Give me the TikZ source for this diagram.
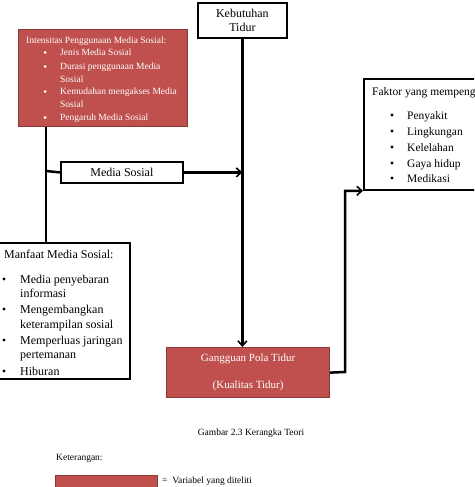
\documentclass[tikz,border=0pt]{standalone}
\usepackage{fontspec}
\setmainfont{Liberation Serif}
\usetikzlibrary{arrows.meta}
\definecolor{varred}{HTML}{C0504D}
\definecolor{varedge}{HTML}{8C3836}
\begin{document}
\begin{tikzpicture}[x=1pt,y=-1pt,
  whitebox/.style={draw=black,line width=1.8pt,fill=white,inner sep=0pt,anchor=north west},
  redbox/.style={draw=varedge,line width=1.2pt,fill=varred,inner sep=0pt,anchor=north west},
  conn/.style={line width=2.5pt},
  arr/.style={conn,-{Straight Barb[length=5pt,width=9pt,line width=1.6pt]}},
  txt/.style={inner sep=0pt,anchor=base west,font=\fontsize{12}{14}\selectfont},
  ftxt/.style={txt,font=\fontsize{11.5}{14}\selectfont},
  wtxt/.style={inner sep=0pt,anchor=base west,text=white,font=\fontsize{9.5}{12}\selectfont},
  bul/.style={circle,fill=black,inner sep=0pt,minimum size=3.4pt},
  wbul/.style={circle,fill=white,inner sep=0pt,minimum size=3pt},
  small/.style={inner sep=0pt,font=\fontsize{9.5}{12}\selectfont}]
\useasboundingbox (0,0) rectangle (474,487);
\clip (0,0) rectangle (474,487);

% Kebutuhan Tidur
\node[whitebox,minimum width=89pt,minimum height=35pt] (keb) at (197,2) {};
\node[inner sep=0pt,align=center,font=\fontsize{12}{14}\selectfont] (kebt) at (keb.center) {Kebutuhan\\Tidur};

% Intensitas box
\node[redbox,minimum width=169pt,minimum height=97pt] (intens) at (18,29) {};
\node[wtxt] (i0) at (26,43.5) {Intensitas Penggunaan Media Sosial:};
\node[wbul] (ib1) at (45,52.5) {};
\node[wtxt] (i1) at (60,55.5) {Jenis Media Sosial};
\node[wbul] (ib2) at (45,66.5) {};
\node[wtxt] (i2) at (60,69.5) {Durasi penggunaan Media};
\node[wtxt] (i2b) at (60,82.5) {Sosial};
\node[wbul] (ib3) at (45,91.5) {};
\node[wtxt] (i3) at (60,94.5) {Kemudahan mengakses Media};
\node[wtxt] (i3b) at (60,107.5) {Sosial};
\node[wbul] (ib4) at (45,117.5) {};
\node[wtxt] (i4) at (60,120.5) {Pengaruh Media Sosial};

% Media Sosial
\node[whitebox,minimum width=122pt,minimum height=21pt] (media) at (60,161) {};
\node[inner sep=0pt,font=\fontsize{12}{14}\selectfont] (mediat) at (media.center) {Media Sosial};

% Manfaat box
\node[whitebox,minimum width=131pt,minimum height=136pt] (manf) at (-2,242) {};
\node[txt] (m0) at (4,258) {Manfaat Media Sosial:};
\node[bul] (mb1) at (4,279) {};
\node[txt] (m1) at (20,283) {Media penyebaran};
\node[txt] (m1b) at (20,297) {informasi};
\node[bul] (mb2) at (4,309) {};
\node[txt] (m2) at (20,313) {Mengembangkan};
\node[txt] (m2b) at (20,328) {keterampilan sosial};
\node[bul] (mb3) at (4,340) {};
\node[txt] (m3) at (20,344) {Memperluas jaringan};
\node[txt] (m3b) at (20,358) {pertemanan};
\node[bul] (mb4) at (4,371) {};
\node[txt] (m4) at (20,375) {Hiburan};

% Faktor box
\node[whitebox,minimum width=130pt,minimum height=111pt] (faktor) at (363,78) {};
\node[ftxt] (f0) at (372,95) {Faktor yang mempeng};
\node[bul] (fb1) at (392,115) {};
\node[ftxt] (f1) at (407,119) {Penyakit};
\node[bul] (fb2) at (392,131) {};
\node[ftxt] (f2) at (407,135) {Lingkungan};
\node[bul] (fb3) at (392,147) {};
\node[ftxt] (f3) at (407,151) {Kelelahan};
\node[bul] (fb4) at (392,163) {};
\node[ftxt] (f4) at (407,167) {Gaya hidup};
\node[bul] (fb5) at (392,178) {};
\node[ftxt] (f5) at (407,182) {Medikasi};

% Gangguan box
\node[redbox,minimum width=163pt,minimum height=50pt] (gang) at (166,347) {};
\node[inner sep=0pt,align=center,text=white,font=\fontsize{11}{27}\selectfont] (gangt) at (gang.center) {Gangguan Pola Tidur\\(Kualitas Tidur)};

% connectors
\coordinate (jA) at (46,171);
\coordinate (jB) at (345,372);
\draw[conn] (intens.south west -| jA) -- (manf.north west -| jA);
\draw[conn] (jA) -- (media.west);
\draw[arr] (media.east) -- (media.east -| keb.south);
\draw[arr] (keb.south) -- (keb.south |- gang.north);
\draw[arr] (gang.east) -- (jB) |- (faktor.south west);

% caption and legend
\node[small] (cap) at (251,433) {Gambar 2.3 Kerangka Teori};
\node[small,anchor=west] (ket) at (56,458) {Keterangan:};
\node[redbox,minimum width=102pt,minimum height=20pt] (leg) at (55,475) {};
\node[small,anchor=west] (legt) at (162,481) {=\ \ Variabel yang diteliti};
\end{tikzpicture}
\end{document}
